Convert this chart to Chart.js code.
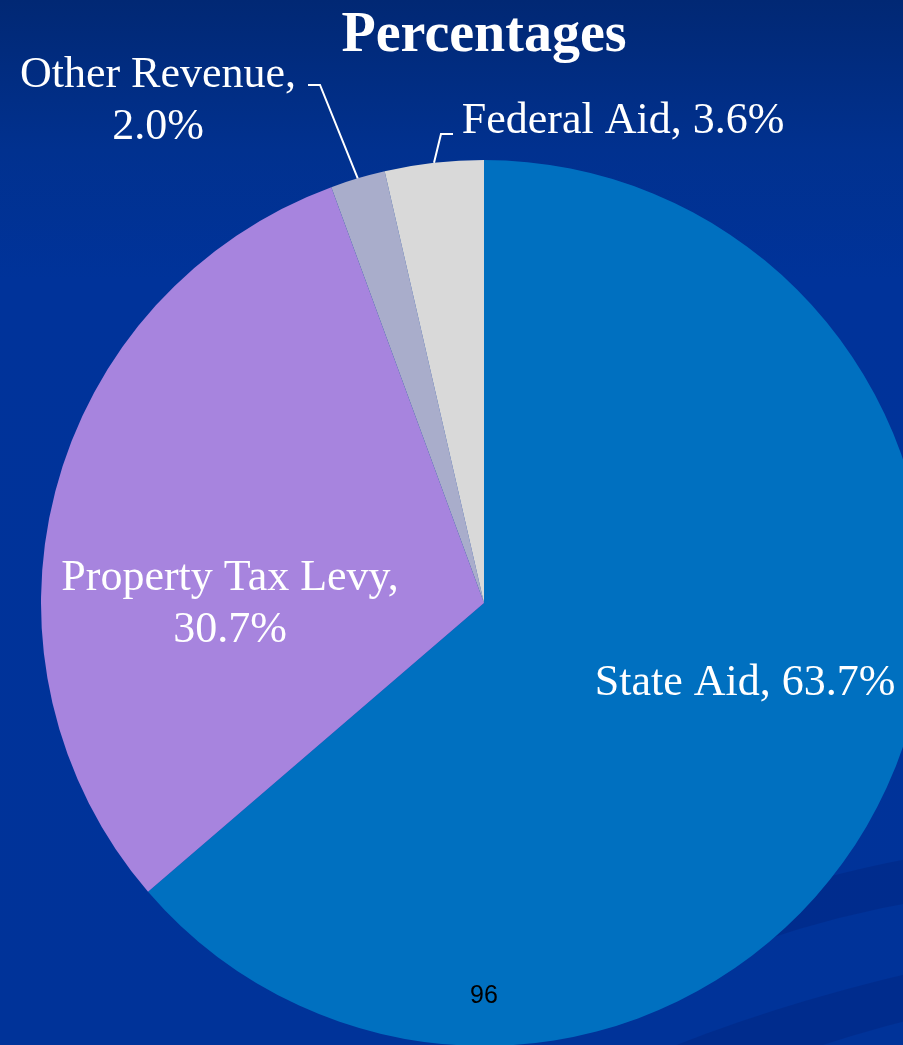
<!DOCTYPE html>
<html>
<head>
<meta charset="utf-8">
<script src="https://cdn.jsdelivr.net/npm/chart.js@4.4.0/dist/chart.umd.min.js"></script>
<style>
  html, body { margin: 0; padding: 0; }
  body {
    width: 903px; height: 1045px; overflow: hidden;
    background: linear-gradient(#012874 0px, #01318f 150px, #00339a 280px, #003399 1045px);
  }
  #pie { position: absolute; left: 0; top: 0; }
</style>
</head>
<body>
<canvas id="pie" width="968" height="1046"></canvas>
<script>
// Revenue sources, percent of total
const categories = ['State Aid', 'Property Tax Levy', 'Other Revenue', 'Federal Aid'];
const percents = [63.7, 30.7, 2.0, 3.6];
const sliceColors = ['#0070c0', '#a784de', '#a9adcb', '#d9d9d9'];

// where each label sits (text lines, anchor) - layout only
const labelLayout = [
    { lines: ['State Aid, 63.7%'], x: 745, y: 695 },
    { lines: ['Property Tax Levy,', '30.7%'], x: 230, y: 590 },
    { lines: ['Other Revenue,', '2.0%'], x: 158, y: 87, elbow: [320, 85], tail: 308 },
    { lines: ['Federal Aid, 3.6%'], x: 623, y: 133, elbow: [441, 134], tail: 453 }
];

const serif = "'Liberation Serif', 'Times New Roman', serif";

// darker swooshes of the slide background
const swooshPlugin = {
    id: 'swoosh',
    beforeDraw(chart) {
        const ctx = chart.ctx;
        ctx.save();
        ctx.fillStyle = 'rgba(0, 30, 110, 0.28)';
        ctx.beginPath();
        ctx.moveTo(620, 960);
        ctx.quadraticCurveTo(760, 880, 960, 850);
        ctx.lineTo(960, 895);
        ctx.quadraticCurveTo(800, 915, 640, 990);
        ctx.closePath();
        ctx.fill();
        ctx.beginPath();
        ctx.moveTo(640, 1060);
        ctx.quadraticCurveTo(780, 1000, 960, 962);
        ctx.lineTo(960, 1008);
        ctx.quadraticCurveTo(860, 1030, 780, 1060);
        ctx.closePath();
        ctx.fill();
        ctx.restore();
    }
};

const labelPlugin = {
    id: 'sliceLabels',
    afterDatasetsDraw(chart) {
        const ctx = chart.ctx;
        const arcs = chart.getDatasetMeta(0).data;
        ctx.save();
        ctx.fillStyle = '#ffffff';
        ctx.strokeStyle = '#ffffff';
        ctx.lineWidth = 2;
        ctx.font = '44px ' + serif;
        ctx.textAlign = 'center';
        ctx.textBaseline = 'alphabetic';
        labelLayout.forEach((lab, i) => {
            lab.lines.forEach((t, j) => ctx.fillText(t, lab.x, lab.y + j * 52));
            if (lab.elbow) {
                const a = arcs[i];
                const mid = (a.startAngle + a.endAngle) / 2;
                const ex = a.x + Math.cos(mid) * a.outerRadius;
                const ey = a.y + Math.sin(mid) * a.outerRadius;
                ctx.beginPath();
                ctx.moveTo(ex, ey);
                ctx.lineTo(lab.elbow[0], lab.elbow[1]);
                ctx.lineTo(lab.tail, lab.elbow[1]);
                ctx.stroke();
            }
        });
        // slide number
        ctx.fillStyle = '#000000';
        ctx.font = "25px 'Liberation Sans', Arial, sans-serif";
        ctx.fillText('96', 484, 1003);
        ctx.restore();
    }
};

new Chart(document.getElementById('pie'), {
    type: 'pie',
    data: {
        labels: categories,
        datasets: [{
            data: percents,
            backgroundColor: sliceColors,
            borderWidth: 0
        }]
    },
    options: {
        responsive: false,
        devicePixelRatio: 1,
        animation: false,
        layout: { padding: { left: 41, right: 41, top: 0, bottom: 0 } },
        plugins: {
            legend: { display: false },
            tooltip: { enabled: false },
            title: {
                display: true,
                text: 'Percentages',
                color: '#ffffff',
                font: { family: serif, size: 56, weight: 'bold', lineHeight: 1 },
                padding: { top: 9, bottom: 95 }
            }
        }
    },
    plugins: [swooshPlugin, labelPlugin]
});
</script>
</body>
</html>
